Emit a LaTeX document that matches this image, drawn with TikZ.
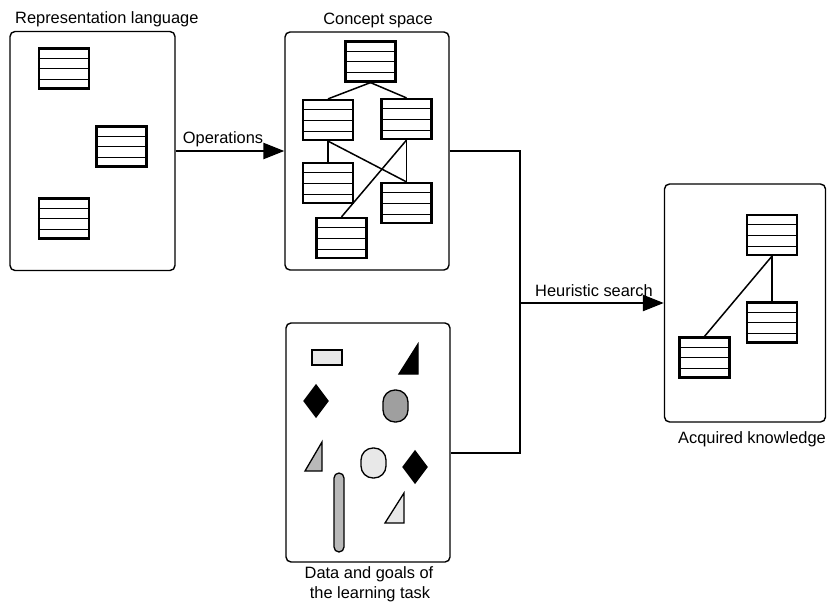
\documentclass[tikz,border=0pt]{standalone}
\usepackage{fontspec}
\setmainfont{Liberation Sans}
\usetikzlibrary{arrows.meta,calc}
\tikzset{
 panel/.style={draw, line width=1.4pt, rounded corners=5pt, inner sep=0pt},
 rec/.style={draw, line width=2.2pt, minimum width=50pt, minimum height=40pt, inner sep=0pt, fill=white},
 innerline/.style={line width=0.9pt},
 link/.style={line width=1.5pt},
 flow/.style={line width=2.4pt},
 bighead/.style={-{Triangle[length=21pt,width=16pt]}},
 lbl/.style={font=\fontsize{16.4}{19}\selectfont, inner sep=0pt},
 figure/.style={draw, line width=1.3pt},
}
\newcommand\recbox[3]{%
 \node[rec] (#1) at (#2,#3) {};
 \foreach \f in {0.26,0.51,0.76}
   \draw[innerline] ($(#1.north west)!\f!(#1.south west)$) -- ($(#1.north east)!\f!(#1.south east)$);
}
\begin{document}
\begin{tikzpicture}[x=1pt,y=-1pt]
\useasboundingbox (0,0) rectangle (827,602);

% panels
\node[panel, minimum width=165pt, minimum height=239pt] (rep) at (92.5,151) {};
\node[panel, minimum width=164pt, minimum height=238pt] (concept) at (367,151) {};
\node[panel, minimum width=164pt, minimum height=239pt] (data) at (368,442.5) {};
\node[panel, minimum width=161pt, minimum height=238pt] (acq) at (745,303) {};

% labels
\node[lbl, anchor=base west] (repl) at (15,24) {Representation language};
\node[lbl, anchor=base] (conl) at (378,25) {Concept space};
\node[lbl, anchor=base] (opl) at (223,143) {Operations};
\node[lbl, anchor=base] (heul) at (594,296) {Heuristic search};
\node[lbl, anchor=base] (acql) at (752,443) {Acquired knowledge};
\node[lbl, anchor=base] (datal1) at (369,578) {Data and goals of};
\node[lbl, anchor=base] (datal2) at (370,598) {the learning task};

% representation language records
\recbox{r1}{64}{68.5}
\recbox{r2}{121.5}{146.5}
\recbox{r3}{64}{218.5}

% concept space records
\recbox{ct}{370.5}{61.5}
\recbox{cml}{328}{120}
\recbox{cmr}{406.5}{119}
\recbox{cll}{328}{183}
\recbox{clr}{406.5}{203}
\recbox{cb}{341.5}{238}
\draw[link] (ct.south) -- (cml.north);
\draw[link] (ct.south) -- (cmr.north);
\draw[link] (cml.south) -- (cll.north);
\draw[link] (cml.south) -- (clr.north);
\draw[link] (cmr.south) -- (clr.north);
\draw[link] (cmr.south) -- (cb.north);

% acquired knowledge records
\recbox{at}{772}{235}
\recbox{am}{772}{322.5}
\recbox{al}{704.5}{357.5}
\draw[link] (at.south) -- (am.north);
\draw[link] (at.south) -- (al.north);

% data and goals figures
\draw[figure, fill=gray!18] (312,350) rectangle (342,365);
\draw[figure, fill=black] (399,374) -- (418,374) -- (418,344) -- cycle;
\draw[figure, fill=black] (316,385) -- (328,401) -- (316,417) -- (304,401) -- cycle;
\draw[figure, fill=gray!75, rounded corners=12pt] (383,390) rectangle (408,422);
\draw[figure, fill=gray!55] (305,471) -- (322,471) -- (322,442) -- cycle;
\draw[figure, fill=gray!18, rounded corners=12pt] (361,448) rectangle (386,478);
\draw[figure, fill=black] (415,451) -- (427,467) -- (415,483) -- (403,467) -- cycle;
\draw[figure, fill=gray!55, rounded corners=5pt] (334,473) rectangle (344,552);
\draw[figure, fill=gray!18] (385,523) -- (404,523) -- (404,493) -- cycle;

% connectors
\draw[flow, bighead] (rep.east) -- (concept.west);
\coordinate (hj) at (520,303);
\coordinate (jd) at (520,453);
\draw[flow] (concept.east) -| (jd) -- (data.east |- jd);
\draw[flow, bighead] (hj) -- (acq.west);
\end{tikzpicture}
\end{document}
